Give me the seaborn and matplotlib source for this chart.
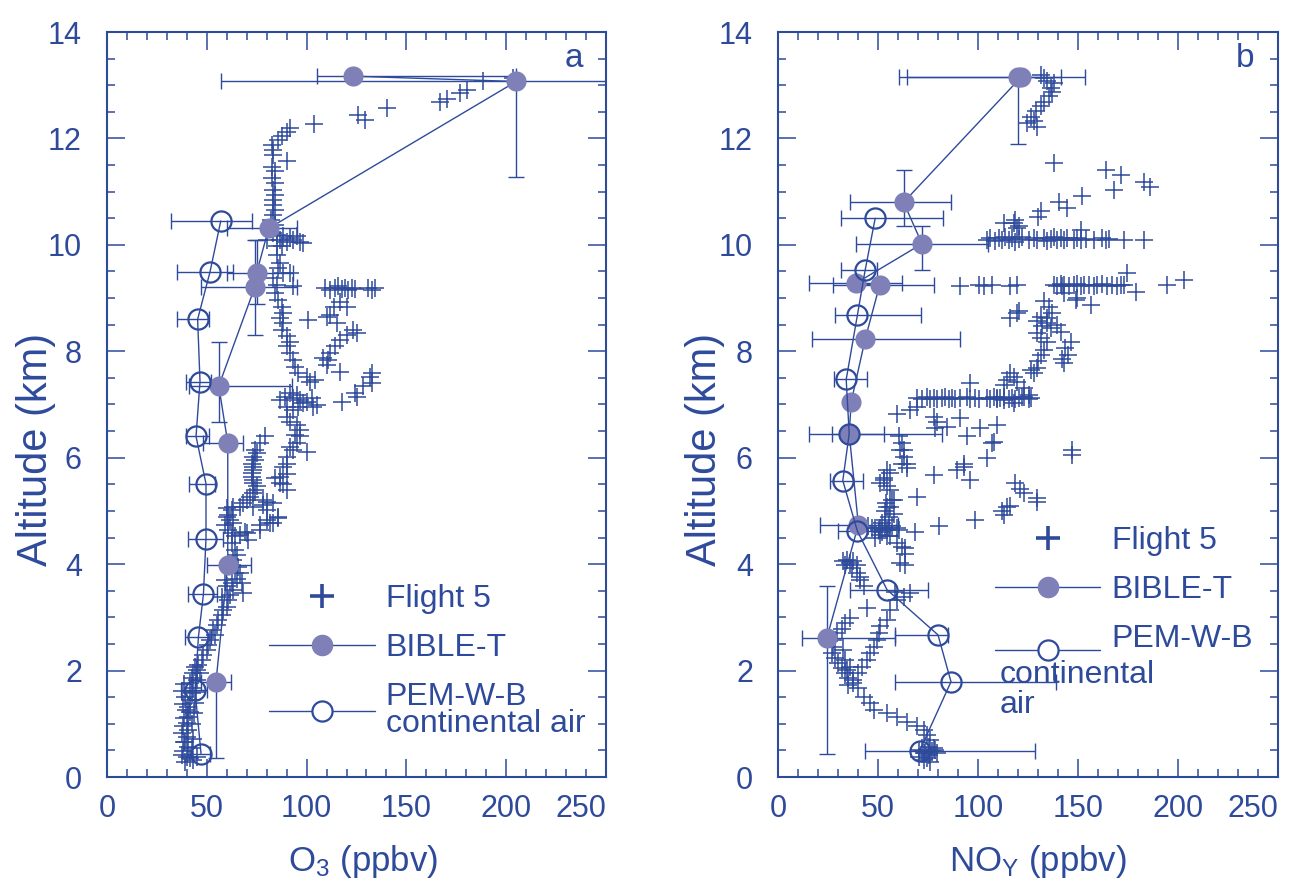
import matplotlib
matplotlib.use('Agg')
import matplotlib.pyplot as plt
from matplotlib.lines import Line2D
from matplotlib.legend_handler import HandlerLine2D
from matplotlib.ticker import MultipleLocator
import seaborn as sns
import pandas as pd
import numpy as np

# ---- data ----
# panel a: O3 (ppbv) vs altitude (km), Flight 5 points as (o3, alt)
f5_o3 = [(203.5, 13.13), (188.5, 13.07), (180.2, 12.91), (176.9, 12.85), (170.1, 12.74), (166.8, 12.69),
         (140.1, 12.57), (129.3, 12.35), (125.9, 12.44), (103.7, 12.27), (91.7, 12.20), (90.0, 12.13),
         (87.5, 12.04), (85.8, 11.97), (82.5, 11.88), (83.3, 11.79), (83.3, 11.69), (90.0, 11.57),
         (82.7, 11.47), (84.0, 11.38), (82.7, 11.25), (84.0, 11.16), (83.0, 11.03), (84.0, 10.94),
         (83.0, 10.85), (83.0, 10.75), (84.0, 10.66), (83.0, 10.56), (82.0, 10.47), (84.0, 10.38),
         (85.0, 10.19), (86.7, 10.09), (88.3, 10.16), (90.0, 10.06), (91.7, 10.13), (93.3, 10.09),
         (95.0, 10.16), (96.7, 10.06), (85.0, 9.97), (87.5, 9.97), (98.3, 10.03), (83.0, 10.22), (80.0, 10.10),
         (85.0, 9.81), (86.7, 9.66), (85.8, 9.56), (88.3, 9.47), (91.7, 9.47), (83.3, 9.37), (85.0, 9.25),
         (93.3, 9.22), (84.2, 9.09), (85.8, 8.97), (87.5, 8.84), (88.3, 8.72), (86.7, 8.62), (88.3, 8.53),
         (87.5, 8.40), (90.0, 8.28), (91.7, 8.18), (90.0, 8.09), (91.7, 7.96), (93.3, 7.84), (94.2, 7.71),
         (95.8, 7.59), (100.0, 7.52), (101.7, 7.43), (104.2, 7.46),
         (109.2, 9.19), (111.7, 9.15), (114.2, 9.19), (115.9, 9.22), (117.5, 9.17), (119.2, 9.19),
         (120.9, 9.15), (122.6, 9.19), (124.2, 9.17), (130.9, 9.19), (132.6, 9.15), (134.3, 9.19),
         (116.7, 8.93), (120.1, 8.84), (113.5, 8.84), (100.9, 8.59), (110.0, 8.65), (111.7, 8.68),
         (115.0, 8.53), (123.4, 8.40), (125.1, 8.34), (120.1, 8.31), (116.7, 8.21), (114.2, 8.09),
         (111.7, 7.96), (110.9, 7.84), (108.4, 7.87), (110.0, 7.74), (116.7, 7.62), (131.8, 7.52),
         (132.6, 7.40), (132.6, 7.59), (128.4, 7.34), (124.2, 7.21), (125.0, 7.15), (117.6, 7.05), (103.4, 6.96),
         (86.7, 7.09), (89.2, 7.15), (91.7, 7.21), (93.3, 7.12), (95.0, 7.18), (96.7, 7.09), (98.3, 7.02),
         (100.0, 7.05), (102.5, 7.12), (105.0, 6.99), (90.0, 6.96), (93.3, 6.89), (95.8, 6.96),
         (90.0, 6.77), (91.7, 6.68), (95.0, 6.62), (96.7, 6.52), (94.2, 6.43), (96.7, 6.40), (95.0, 6.27),
         (93.3, 6.15), (100.0, 6.11), (91.7, 6.21), (90.0, 6.02), (88.3, 5.83), (90.0, 5.89), (90.0, 5.70),
         (84.0, 5.61), (86.7, 5.64), (86.7, 5.52), (88.3, 5.50), (90.0, 5.39),
         (83.3, 5.14), (80.0, 5.02), (78.4, 5.21), (85.8, 4.89), (81.7, 4.77), (80.0, 5.17), (78.4, 5.11),
         (80.0, 4.83), (76.7, 4.74),
         (79.2, 6.40), (76.7, 6.27), (75.0, 6.08), (74.1, 6.15), (74.1, 5.96), (73.3, 6.02), (73.3, 5.83),
         (72.5, 5.89), (72.5, 5.71), (73.3, 5.77), (73.3, 5.58), (72.5, 5.64), (75.0, 5.46), (73.3, 5.52),
         (73.3, 5.33), (74.1, 5.39), (71.6, 5.27), (68.3, 5.14), (63.3, 5.08), (60.0, 4.89), (63.3, 4.77),
         (73.3, 5.08), (85.8, 4.86), (83.3, 4.77), (76.7, 4.64), (70.0, 4.58),
         (70.0, 5.21), (66.6, 5.08), (62.5, 5.02), (60.0, 5.05), (60.8, 4.92), (61.6, 4.83), (59.1, 4.74),
         (60.8, 4.64), (62.5, 4.58), (64.1, 4.52), (66.6, 4.55), (69.1, 4.61), (70.7, 4.45),
         (62.5, 4.39), (64.1, 4.27), (64.9, 4.17), (63.3, 4.08), (65.8, 3.95), (64.1, 3.83), (64.9, 3.73),
         (62.5, 3.64), (63.3, 3.52), (61.6, 3.42), (60.8, 3.33), (60.0, 3.20), (58.3, 3.14), (57.5, 3.05),
         (59.1, 3.70), (60.0, 3.58), (57.5, 3.39), (66.6, 3.83), (67.4, 3.64), (68.3, 3.45),
         (55.8, 2.95), (55.0, 2.86), (53.3, 2.76), (54.1, 2.67), (51.6, 2.58), (50.8, 2.48), (49.9, 2.39),
         (48.3, 2.29), (47.4, 2.20), (45.8, 2.11), (44.9, 2.01), (43.2, 1.95), (42.4, 1.86), (41.6, 1.76),
         (43.2, 1.67), (42.4, 1.57), (41.6, 1.45), (40.7, 1.32), (41.6, 1.23), (40.7, 1.13), (39.9, 1.01),
         (40.7, 0.88), (39.9, 0.76), (39.1, 0.66), (40.7, 0.57), (38.2, 0.48), (39.9, 0.38), (39.1, 0.29),
         (44.1, 2.07), (46.6, 1.95), (44.9, 1.82), (44.5, 1.60), (44.1, 1.39), (37.5, 0.42), (41.6, 0.35),
         (43.2, 0.32), (44.9, 0.38), (38.5, 1.75), (37.8, 1.62), (39.0, 1.50), (38.2, 1.38), (39.5, 1.25),
         (38.5, 1.10), (38.0, 0.95), (37.8, 0.82), (38.6, 0.65), (43.5, 1.20), (42.8, 1.00), (43.0, 0.72),
         (42.5, 0.55)]

# BIBLE-T, panel a: mean, altitude and error-bar ends
bt_o3 = [123, 205, 81, 75, 74, 56, 60.5, 60.5, 54.6]
bt_o3_alt = [13.17, 13.07, 10.31, 9.48, 9.20, 7.35, 6.28, 3.98, 1.79]
bt_o3_xlo = [105, 57, 60, 60, 47, 41, 48, 50, 47]
bt_o3_xhi = [205, 360, 95, 93, 95, 92.5, 68, 72, 62]
bt_o3_ylo = [13.17, 11.28, 10.31, 8.88, 8.30, 6.68, 6.28, 3.98, 0.36]
bt_o3_yhi = [13.17, 13.07, 10.31, 10.09, 10.10, 8.18, 6.28, 3.98, 1.79]

# PEM-W-B continental air, panel a
pem_o3 = [57, 51.6, 45.4, 46.6, 44.6, 49.6, 49.6, 48.3, 45.8, 44.1, 47.1]
pem_o3_alt = [10.45, 9.49, 8.60, 7.43, 6.40, 5.51, 4.48, 3.43, 2.63, 1.63, 0.44]
pem_o3_xlo = [32, 35.2, 35.2, 39.6, 39.6, 41, 40.7, 40.7, 39, 37, 40]
pem_o3_xhi = [72.5, 63.3, 51.2, 52, 51, 54, 58, 55, 52, 50, 51.6]

# panel b: NOy (pptv) vs altitude, Flight 5 points as (noy, alt)
f5_noy = [(131.3, 13.20), (134.6, 13.07), (136.3, 12.95), (137.1, 12.88), (135.4, 12.79), (132.9, 12.69),
          (131.3, 12.60), (128.8, 12.51), (126.3, 12.41), (127.9, 12.32), (129.6, 12.22), (124.6, 12.29),
          (132.9, 13.13), (137.9, 13.04),
          (137.9, 11.53), (163.8, 11.41), (171.3, 11.31), (168.2, 11.03), (183.0, 11.19), (185.8, 11.09),
          (152.2, 10.91), (144.6, 10.69), (140.4, 10.80), (131.3, 10.63), (129.8, 10.52), (117.9, 10.41),
          (120.4, 10.36), (112.9, 10.41), (118.7, 10.47), (119.6, 10.31), (151.3, 10.28),
          (104.5, 10.10), (106.2, 10.13), (108.7, 10.08), (110.4, 10.12), (112.1, 10.10), (113.7, 10.14),
          (115.4, 10.09), (117.1, 10.12), (118.7, 10.06), (120.4, 10.11), (122.1, 10.14), (125.4, 10.09),
          (127.9, 10.12), (129.6, 10.10), (133.0, 10.13), (134.6, 10.08), (136.3, 10.11), (137.9, 10.14),
          (139.6, 10.09), (141.3, 10.12), (143.0, 10.10), (144.6, 10.13), (148.0, 10.09), (149.7, 10.12),
          (151.3, 10.10), (153.8, 10.11), (158.0, 10.09), (162.2, 10.12), (163.8, 10.10), (165.5, 10.11),
          (173.0, 10.09), (183.0, 10.09),
          (91.2, 9.22), (100.4, 9.24), (102.9, 9.22), (107.0, 9.25), (116.2, 9.22), (119.4, 9.24),
          (137.9, 9.24), (139.6, 9.22), (141.3, 9.26), (142.1, 9.23), (143.0, 9.25), (145.4, 9.22),
          (147.9, 9.24), (149.7, 9.26), (151.3, 9.22), (153.0, 9.24), (155.4, 9.25), (158.0, 9.22),
          (159.6, 9.24), (162.2, 9.26), (164.7, 9.23), (167.2, 9.24), (169.7, 9.22), (171.3, 9.25),
          (173.0, 9.24), (194.7, 9.24), (174.3, 9.47), (178.9, 9.12), (202.8, 9.34),
          (143.0, 9.09), (149.7, 9.00), (156.3, 8.87), (132.9, 8.95), (135.4, 8.84), (137.1, 8.72),
          (134.6, 8.62), (131.3, 8.65), (119.6, 8.72), (116.2, 8.62), (120.4, 8.75), (134.6, 8.53),
          (139.6, 8.50), (129.6, 8.56), (132.1, 8.47), (136.3, 8.43), (141.3, 8.37), (129.6, 8.34),
          (131.3, 8.25), (134.6, 8.18), (146.3, 8.18), (143.4, 8.07), (145.0, 7.93), (141.8, 7.85),
          (143.0, 7.78), (132.9, 8.03), (131.3, 7.93), (130.0, 7.82), (129.6, 7.68), (126.3, 7.65),
          (127.9, 7.59), (148.8, 8.97),
          (117.9, 7.52), (114.6, 7.46), (112.9, 7.37), (119.6, 7.43), (122.9, 7.31), (126.3, 7.12),
          (122.1, 7.15), (117.9, 7.02), (112.9, 7.09), (109.6, 7.12), (96.2, 7.40), (116.2, 7.59),
          (125.4, 7.18),
          (69.5, 7.12), (72.0, 7.10), (74.5, 7.14), (76.2, 7.11), (77.8, 7.13), (79.5, 7.10), (82.0, 7.12),
          (83.7, 7.14), (85.3, 7.11), (87.0, 7.13), (88.7, 7.10), (91.2, 7.12), (94.5, 7.14), (96.2, 7.11),
          (98.7, 7.12), (100.4, 7.10), (104.5, 7.13), (106.2, 7.11), (107.9, 7.14), (109.6, 7.10),
          (111.2, 7.12), (112.9, 7.14), (115.4, 7.11), (117.1, 7.13), (118.7, 7.10), (120.4, 7.12),
          (122.9, 7.14), (125.4, 7.11),
          (59.5, 6.83), (66.1, 6.90), (69.5, 6.96), (77.8, 6.77), (79.5, 6.68), (91.2, 6.74), (78.7, 6.55),
          (84.5, 6.58), (94.5, 6.40), (101.2, 6.55), (109.6, 6.62), (107.1, 6.27), (104.5, 5.99),
          (89.5, 5.77), (92.8, 5.83), (96.2, 5.58), (77.8, 5.68), (69.5, 5.27), (147.1, 6.15), (147.1, 6.05),
          (98.7, 4.83), (80.3, 4.71), (112.1, 4.99), (114.6, 5.08), (112.9, 4.93), (118.7, 5.52),
          (121.2, 5.42), (122.9, 5.33), (129.6, 5.24), (116.2, 5.10), (92.8, 5.89), (107.9, 6.30),
          (129.6, 5.17), (68.6, 4.61), (63.6, 4.30), (60.3, 4.64), (56.1, 5.08), (57.8, 4.95), (53.6, 4.83),
          (51.1, 4.67),
          (60.3, 6.40), (62.0, 6.27), (62.8, 6.15), (62.8, 6.02), (62.0, 5.89), (64.6, 5.89), (54.5, 5.77),
          (52.8, 5.58), (56.1, 5.39), (57.8, 5.21), (54.1, 5.14), (61.1, 6.15), (64.5, 5.80), (56.1, 5.71),
          (52.8, 5.61), (51.1, 5.52), (54.5, 5.46), (57.0, 5.21), (54.5, 5.08), (53.6, 4.99), (55.3, 4.89),
          (52.0, 4.77), (54.5, 4.64), (56.1, 4.52), (59.5, 4.39), (62.0, 4.33), (63.6, 4.20), (61.1, 4.02),
          (63.6, 3.98),
          (45.2, 4.71), (46.9, 4.67), (48.6, 4.67), (50.3, 4.64), (52.0, 4.61), (53.6, 4.64), (55.3, 4.67),
          (57.0, 4.71), (51.1, 4.55), (54.5, 4.52), (48.6, 4.49), (59.5, 4.67),
          (32.7, 4.05), (34.4, 4.08), (36.1, 4.02), (37.7, 4.05), (39.4, 3.98), (36.9, 3.92), (39.4, 3.83),
          (41.1, 3.70), (42.8, 3.58), (33.6, 3.98), (41.1, 3.76), (44.4, 3.17),
          (58.6, 3.48), (59.5, 3.33), (62.8, 3.39), (66.1, 3.45), (56.1, 3.14), (54.5, 2.95), (51.1, 2.83),
          (50.3, 2.70), (49.4, 2.58), (47.8, 2.45), (46.1, 2.33), (44.4, 2.20), (41.9, 2.07), (40.2, 1.95),
          (37.7, 1.82), (35.2, 1.73),
          (36.1, 2.98), (33.6, 2.89), (31.9, 2.79), (29.4, 2.70), (28.6, 2.58), (27.7, 2.45), (26.9, 2.33),
          (28.6, 2.23), (30.2, 2.14), (31.9, 2.04), (33.6, 1.95), (35.2, 1.86), (37.7, 1.76), (40.2, 1.67),
          (42.8, 1.51), (46.1, 1.39), (47.8, 1.26), (54.5, 1.20), (59.5, 1.13), (64.5, 1.04), (69.5, 0.95),
          (72.8, 0.88), (74.5, 0.79), (76.2, 0.70), (75.3, 0.57), (72.8, 0.45), (70.3, 0.38), (77.8, 0.54),
          (79.5, 0.45), (32.7, 2.39), (33.6, 2.20), (34.4, 2.01), (36.1, 2.07),
          (70.3, 0.51), (72.0, 0.48), (73.6, 0.45), (75.3, 0.41), (77.0, 0.48), (78.7, 0.51), (74.5, 0.35),
          (76.2, 0.29), (72.8, 0.32)]

bt_noy = [120, 121.5, 62.8, 72, 39, 50.8, 43.6, 36.6, 35.6, 40.2, 24.4]
bt_noy_alt = [13.16, 13.15, 10.80, 10.02, 9.28, 9.24, 8.23, 7.05, 6.45, 4.74, 2.61]
bt_noy_xlo = [60.3, 64.5, 36, 39, 15.7, 27.4, 16.9, 36.6, 15.7, 21, 12.2]
bt_noy_xhi = [153.3, 141.3, 86.7, 105, 62, 77.8, 91.2, 36.6, 82, 60, 58.6]
bt_noy_ylo = [11.9, 13.15, 10.36, 9.53, 9.28, 9.24, 8.23, 7.05, 6.45, 4.74, 0.43]
bt_noy_yhi = [13.16, 13.15, 11.41, 10.35, 9.28, 9.24, 8.23, 7.05, 6.45, 4.74, 3.59]

pem_noy = [48.6, 43.6, 39.7, 34.1, 35.6, 32.4, 39.7, 54.5, 80, 86.5, 70.8]
pem_noy_alt = [10.50, 9.53, 8.68, 7.47, 6.45, 5.57, 4.62, 3.52, 2.67, 1.79, 0.49]
pem_noy_xlo = [31.6, 31.6, 28.6, 28, 26.9, 26, 30.2, 36, 58.6, 58.3, 43.6]
pem_noy_xhi = [82.3, 49.4, 71.6, 44.4, 52.8, 42.7, 50, 74.8, 85, 138.8, 128.4]

x_ticks = [0, 50, 100, 150, 200, 250]

# ---- style ----
dark = '#2E4A9B'
fill = '#7F80B8'

sns.set_theme(style='ticks')
plt.rcParams['font.family'] = ['Liberation Sans', 'DejaVu Sans']
plt.rcParams['mathtext.default'] = 'regular'

fig = plt.figure(figsize=(12.89, 8.88), dpi=100)
ax1 = fig.add_axes([107 / 1289, 111 / 888, 499 / 1289, 745 / 888])
ax2 = fig.add_axes([778 / 1289, 111 / 888, 500 / 1289, 745 / 888])


class LoweredHandler(HandlerLine2D):
    # legend line handle drawn a bit below the label's centre
    def __init__(self, drop=0.0, **kw):
        super().__init__(**kw)
        self.drop = drop

    def create_artists(self, legend, orig_handle, xdescent, ydescent, width, height, fontsize, trans):
        arts = super().create_artists(legend, orig_handle, xdescent, ydescent, width, height,
                                      fontsize, trans)
        for a in arts:
            a.set_ydata(np.asarray(a.get_ydata()) - self.drop * fontsize)
        return arts


def errs(v, lo, hi):
    return [[a - b for a, b in zip(v, lo)], [b - a for a, b in zip(v, hi)]]


def panel(ax, f5, bt, bt_alt, bt_xlo, bt_xhi, bt_ylo, bt_yhi, pem, pem_alt, pem_xlo, pem_xhi,
          xlabel, letter, leg_anchor, pem_label, xlab_x, ylab_x, pem_drop):
    f5df = pd.DataFrame(f5, columns=['val', 'alt'])
    sns.scatterplot(data=f5df, x='val', y='alt', marker='+', s=185, color=dark,
                    linewidth=1.1, ax=ax, zorder=2, legend=False)

    # error bars
    ax.errorbar(bt, bt_alt, xerr=errs(bt, bt_xlo, bt_xhi), yerr=errs(bt_alt, bt_ylo, bt_yhi),
                fmt='none', ecolor=dark, elinewidth=1.0, capsize=6, capthick=1.0, zorder=3)
    ax.errorbar(pem, pem_alt, xerr=errs(pem, pem_xlo, pem_xhi), fmt='none', ecolor=dark,
                elinewidth=1.0, capsize=6, capthick=1.0, zorder=3)

    # profiles, kept in altitude order
    btdf = pd.DataFrame({'val': bt, 'alt': bt_alt})
    pemdf = pd.DataFrame({'val': pem, 'alt': pem_alt})
    sns.lineplot(data=btdf, x='val', y='alt', sort=False, estimator=None, ax=ax, color=dark,
                 lw=1.0, marker='o', markersize=14.5, markerfacecolor=fill, markeredgecolor=fill,
                 markeredgewidth=0, zorder=4)
    sns.lineplot(data=pemdf, x='val', y='alt', sort=False, estimator=None, ax=ax, color=dark,
                 lw=1.0, marker='o', markersize=14.5, markerfacecolor='none', markeredgecolor=dark,
                 markeredgewidth=1.6, zorder=5)

    ax.set_xlim(0, 250)
    ax.set_ylim(0, 14)
    ax.set_xticks(x_ticks)
    ax.xaxis.set_minor_locator(MultipleLocator(10))
    ax.yaxis.set_major_locator(MultipleLocator(2))
    ax.yaxis.set_minor_locator(MultipleLocator(0.5))
    ax.tick_params(which='both', direction='in', top=True, right=True, colors=dark,
                   labelcolor=dark, labelsize=22)
    ax.tick_params(which='major', length=13, width=1.1)
    ax.tick_params(which='minor', length=6, width=1.1)
    ax.tick_params(axis='y', pad=18)
    ax.tick_params(axis='x', pad=12)
    # last x label sits flush with the frame
    ax.xaxis.get_major_ticks()[-1].label1.set_horizontalalignment('right')
    for s in ax.spines.values():
        s.set_color(dark)
        s.set_linewidth(1.5)

    ax.set_xlabel(xlabel, fontsize=25, color=dark)
    ax.xaxis.set_label_coords(xlab_x, -0.088)
    ax.set_ylabel('Altitude (km)', fontsize=30, color=dark)
    ax.yaxis.set_label_coords(ylab_x, 0.44)
    ax.text(0.935, 0.965, letter, transform=ax.transAxes, fontsize=24, color=dark,
            ha='center', va='center')

    h_pem = Line2D([], [], ls='-', lw=1.0, color=dark, marker='o', ms=14.5, mfc='white', mec=dark, mew=1.6)
    handles = [Line2D([], [], ls='none', marker='+', ms=17, mew=2.6, color=dark),
               Line2D([], [], ls='-', lw=1.0, color=dark, marker='o', ms=14.5, mfc=fill, mec=fill),
               h_pem]
    leg = ax.legend(handles, ['Flight 5', 'BIBLE-T', pem_label], loc='upper left',
                    bbox_to_anchor=leg_anchor, frameon=False, fontsize=23, labelcolor=dark,
                    handlelength=3.3, handletextpad=0.35, labelspacing=0.6, borderpad=0,
                    borderaxespad=0, handler_map={h_pem: LoweredHandler(drop=pem_drop)})
    for t in leg.get_texts():
        t.set_linespacing(0.86)
    return leg


panel(ax1, f5_o3, bt_o3, bt_o3_alt, bt_o3_xlo, bt_o3_xhi, bt_o3_ylo, bt_o3_yhi,
      pem_o3, pem_o3_alt, pem_o3_xlo, pem_o3_xhi, 'O$_3$ (ppbv)', 'a', (0.325, 0.259),
      'PEM-W-B\ncontinental air', 0.513, -0.102, 0.0)
panel(ax2, f5_noy, bt_noy, bt_noy_alt, bt_noy_xlo, bt_noy_xhi, bt_noy_ylo, bt_noy_yhi,
      pem_noy, pem_noy_alt, pem_noy_xlo, pem_noy_xhi, 'NO$_Y$ (ppbv)', 'b', (0.434, 0.337),
      'PEM-W-B', 0.52, -0.106, 0.42)
# in panel b the rest of the label starts further left than the legend text
ax2.text(0.444, 0.157, 'continental\nair', transform=ax2.transAxes, fontsize=23, color=dark,
         ha='left', va='top', linespacing=0.98)

plt.savefig('out.png', dpi=100)
